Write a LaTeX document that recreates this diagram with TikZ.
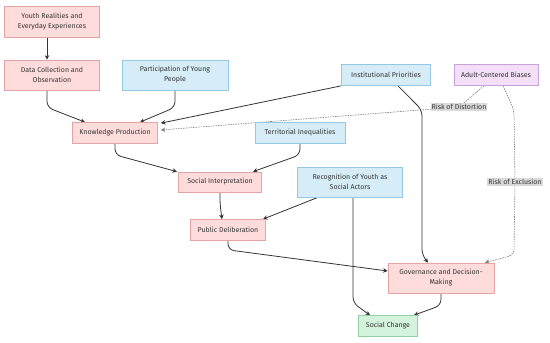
\documentclass[tikz,border=0pt]{standalone}
\usepackage{fontspec}
\setmainfont{Fira Sans}
\usetikzlibrary{arrows.meta,calc,backgrounds}
\definecolor{pinkf}{HTML}{FFDCDC}
\definecolor{pinkd}{HTML}{E6A3A3}
\definecolor{bluef}{HTML}{D6ECF7}
\definecolor{blued}{HTML}{95C8E2}
\definecolor{purpf}{HTML}{F3DFF8}
\definecolor{purpd}{HTML}{C8A2D8}
\definecolor{greenf}{HTML}{D4F3DC}
\definecolor{greend}{HTML}{92CFA1}
\definecolor{txt}{HTML}{333333}
\definecolor{lbl}{HTML}{D9D9D9}
\tikzset{
  box/.style={draw, line width=0.7pt, rectangle, align=center, inner sep=1pt, text=txt,
    font=\fontsize{7}{10}\selectfont},
  pinkbox/.style={box, fill=pinkf, draw=pinkd},
  bluebox/.style={box, fill=bluef, draw=blued},
  purpbox/.style={box, fill=purpf, draw=purpd},
  greenbox/.style={box, fill=greenf, draw=greend},
  lab/.style={fill=lbl, text=txt, inner sep=1pt, font=\fontsize{7}{8}\selectfont},
  arr/.style={draw=txt, line width=0.8pt, rounded corners=6pt, -{Stealth[length=4.5pt,width=4.5pt]}},
  darr/.style={draw=gray, line width=0.6pt, dash pattern=on 1.5pt off 1pt, rounded corners=6pt, -{Stealth[length=4.5pt,width=4.5pt]}},
}
\begin{document}
\begin{tikzpicture}[x=1pt,y=-1pt]
\useasboundingbox (0,0) rectangle (550,343);
\node[pinkbox, minimum width=95pt, minimum height=31pt] (yr) at (52,22) {Youth Realities and\\Everyday Experiences};
\node[pinkbox, minimum width=95pt, minimum height=30pt] (dc) at (52,75) {Data Collection and\\Observation};
\node[bluebox, minimum width=106pt, minimum height=30pt] (pp) at (175,75) {Participation of Young\\People};
\node[pinkbox, minimum width=85pt, minimum height=21pt] (kp) at (115,133) {Knowledge Production};
\node[bluebox, minimum width=89pt, minimum height=21pt] (ip) at (386,75) {Institutional Priorities};
\node[purpbox, minimum width=84pt, minimum height=21pt] (ab) at (496,75) {Adult-Centered Biases};
\node[bluebox, minimum width=90pt, minimum height=21pt] (ti) at (300,133) {Territorial Inequalities};
\node[pinkbox, minimum width=83pt, minimum height=20pt] (si) at (220,182) {Social Interpretation};
\node[bluebox, minimum width=105pt, minimum height=30pt] (rec) at (350,182) {Recognition of Youth as\\Social Actors};
\node[pinkbox, minimum width=75pt, minimum height=21pt] (pd) at (228,230) {Public Deliberation};
\node[pinkbox, minimum width=106pt, minimum height=30pt] (gov) at (441,278) {Governance and Decision-\\Making};
\node[greenbox, minimum width=59pt, minimum height=21pt] (sc) at (388,326) {Social Change};
\node[lab] (rd) at (459,107) {Risk of Distortion};
\node[lab] (re) at (515,182) {Risk of Exclusion};
\begin{pgfonlayer}{background}
\fill[white] (0,0) rectangle (550,343);
\draw[arr] ($(yr.south)+(-5,0)$) -- ($(dc.north)+(-5,0)$);
\draw[arr] ($(dc.south)+(-5,0)$) -- ++(0,17) -- ($(kp.north)+(-30,0)$);
\draw[arr] (pp.south) -- ++(0,17) -- ($(kp.north)+(25,0)$);
\draw[arr] (ip.south west) -- ($(kp.north east)+(3,1)$);
\draw[darr] ($(ab.south)+(-12,0)$) -- (rd.center) -- ($(kp.east)+(3,-3)$);
\draw[darr] ($(ab.south)+(7,0)$) -- (514,110) -- (re.center) -- (514,255) -- ($(gov.north)+(44,0)$);
\draw[arr] ($(ip.south)+(12,0)$) -- (422,110) -- (422,255) -- ($(gov.north)+(-13,0)$);
\draw[arr] (kp.south) -- ++(0,11) -- ($(si.north)+(-43,0)$);
\draw[arr] (ti.south) -- ++(0,11) -- ($(si.north)+(33,0)$);
\draw[arr] (si.south) -- ++(0,12) -- ($(pd.north)+(-6,0)$);
\draw[arr] ($(rec.south)+(-32,0)$) -- ($(pd.north)+(35,0)$);
\draw[arr] ($(rec.south)+(3,0)$) -- (353,303) -- ($(sc.north)+(-18,0)$);
\draw[arr] (pd.south) -- ++(0,9) -- ($(gov.west)+(0,-7)$);
\draw[arr] (gov.south) -- ++(0,12) -- ($(sc.north)+(26,0)$);
\end{pgfonlayer}
\end{tikzpicture}
\end{document}
